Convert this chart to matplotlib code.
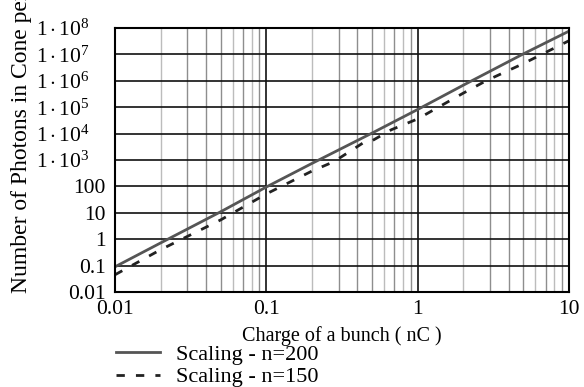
import numpy as np
import matplotlib
matplotlib.use("Agg")
import matplotlib.pyplot as plt
from matplotlib.ticker import FixedLocator, NullFormatter

plt.rcParams['font.family'] = ['Liberation Serif', 'DejaVu Serif']
plt.rcParams['mathtext.fontset'] = 'custom'
plt.rcParams['mathtext.rm'] = 'Liberation Serif'
plt.rcParams['mathtext.it'] = 'Liberation Serif:italic'

# values
charge_200 = [0.01, 0.02, 0.05, 0.1, 0.2, 0.5, 1.0, 2.0, 5.0, 10.0]
photons_200 = [0.09, 0.72, 11, 95, 740, 1.05e4, 8.2e4, 6.8e5, 1.05e7, 7.6e7]

charge_150 = [0.01, 0.02, 0.05, 0.1, 0.2, 0.28, 0.44, 0.48, 0.67, 1.0, 2.0, 2.83, 5.0, 10.0]
photons_150 = [0.045, 0.4, 5.4, 52, 380, 870, 4.6e3, 4.7e3, 1.4e4, 3.6e4, 3.4e5, 1.0e6, 4.5e6, 3.3e7]

y_ticks = [0.01, 0.1, 1, 10, 100, 1e3, 1e4, 1e5, 1e6, 1e7, 1e8]
y_labels = ['0.01', '0.1', '1', '10', '100',
            r'$1\cdot10^{3}$', r'$1\cdot10^{4}$', r'$1\cdot10^{5}$',
            r'$1\cdot10^{6}$', r'$1\cdot10^{7}$', r'$1\cdot10^{8}$']
x_ticks = [0.01, 0.1, 1, 10]
x_labels = ['0.01', '0.1', '1', '10']

fig = plt.figure(figsize=(5.84, 3.87), dpi=100)
ax_w = (569-115)/584
ax = fig.add_axes([115/584, 1-292/387, ax_w, (292-28)/387])

ax.set_xscale('log')
ax.set_yscale('log')
ax.set_xlim(0.01, 10)
ax.set_ylim(0.01, 1e8)

# vertical grid: decades black, in-between lines gray
for dec in [0.01, 0.1, 1]:
    for k in range(2, 10):
        c = '#bcbcbc' if k in (2, 6, 8) else '#8e8e8e'
        ax.axvline(dec*k, color=c, lw=1.0, zorder=1)
for xv in [0.1, 1]:
    ax.axvline(xv, color='#111111', lw=1.2, zorder=1)
for yv in y_ticks[1:-1]:
    ax.axhline(yv, color='#111111', lw=1.2, zorder=1)

l1, = ax.plot(charge_200, photons_200, color='#555555', lw=2.0, zorder=3)
l2, = ax.plot(charge_150, photons_150, color='#222222', lw=2.0,
              dashes=(3, 4), zorder=3)

# y labels: the exponent ones sit further left, as in the original
ax.yaxis.set_major_locator(FixedLocator(y_ticks))
ax.yaxis.set_major_formatter(NullFormatter())
ax.yaxis.set_minor_formatter(NullFormatter())
ytr = ax.get_yaxis_transform()
for yv, lab in zip(y_ticks, y_labels):
    off = 25 if lab.startswith('$') else 9
    ax.text(-off/584/ax_w, yv, lab, transform=ytr, ha='right',
            va='center_baseline', fontsize=15.5)

ax.xaxis.set_major_locator(FixedLocator(x_ticks))
ax.set_xticklabels(x_labels)
ax.xaxis.set_minor_formatter(NullFormatter())
ax.tick_params(which='both', length=0, labelsize=15.5)
ax.tick_params(axis='x', pad=6)

for s in ax.spines.values():
    s.set_linewidth(1.5)
    s.set_color('black')
    s.set_zorder(4)

ax.set_xlabel('Charge of a bunch ( nC )', fontsize=14.5, labelpad=5)
fig.text(22/584, 1-293/387, 'Number of Photons in Cone per bunch',
         rotation=90, fontsize=17, ha='center', va='bottom')

leg = fig.legend([l1, l2], ['Scaling - n=200', 'Scaling - n=150'],
                 loc='upper left', bbox_to_anchor=(116/584, 1-344/387),
                 frameon=False, fontsize=16, handlelength=2.0,
                 handletextpad=0.7, labelspacing=0.1, borderaxespad=0,
                 borderpad=0)

fig.savefig('out.png', dpi=100)
